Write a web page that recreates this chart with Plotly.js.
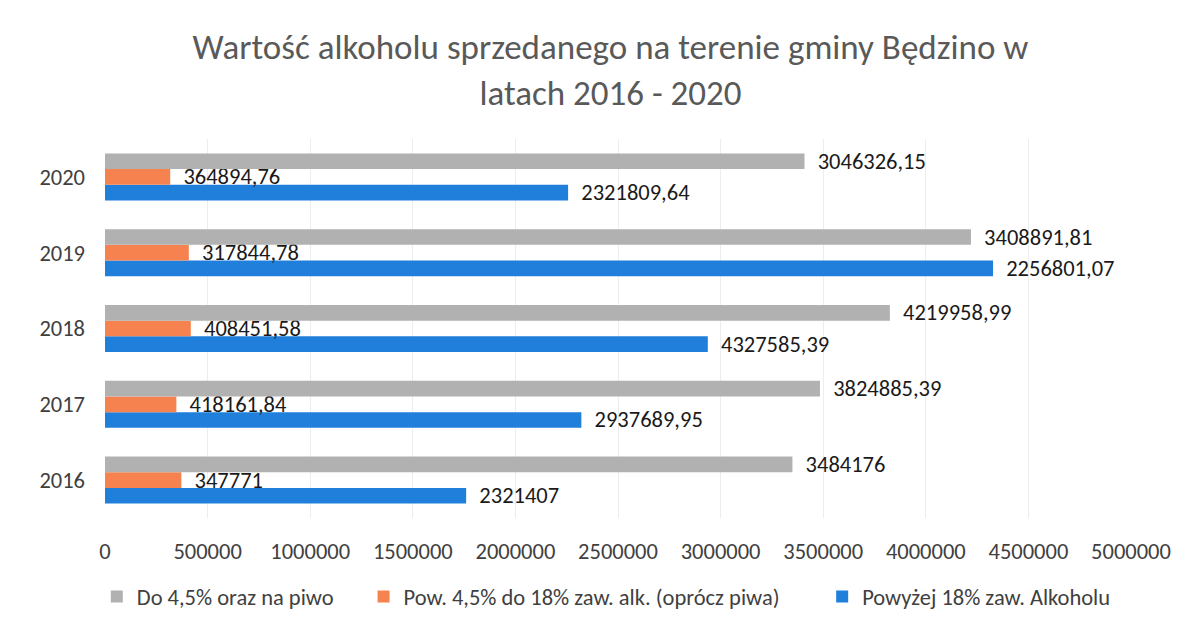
<!DOCTYPE html>
<html>
<head>
<meta charset="utf-8">
<script src="https://cdn.plot.ly/plotly-3.0.1.min.js"></script>
<style>html,body{margin:0;padding:0;background:#fff;}#chart{width:1190px;height:623px;}</style>
</head>
<body>
<div id="chart"></div>
<script>
// Categories (bottom to top)
const years = ['2016', '2017', '2018', '2019', '2020'];

// Bar lengths
const grayValues   = [3350000, 3484176, 3824885.39, 4219958.99, 3408891.81];
const orangeValues = [372000, 347771, 418161.84, 408451.58, 317844.78];
const blueValues   = [1760000, 2321407, 2937689.95, 4327585.39, 2256801.07];

// Data labels as printed in the picture
const grayLabels   = ['3484176', '3824885,39', '4219958,99', '3408891,81', '3046326,15'];
const orangeLabels = ['347771', '418161,84', '408451,58', '317844,78', '364894,76'];
const blueLabels   = ['2321407', '2937689,95', '4327585,39', '2256801,07', '2321809,64'];

// Series names
const seriesNames = ['Do 4,5% oraz na piwo', 'Pow. 4,5% do 18% zaw. alk. (oprócz piwa)', 'Powyżej 18% zaw. Alkoholu'];

const FONT = 'Carlito, Lato, "Liberation Sans", sans-serif';

function series(name, vals, labels, color, legendId) {
  return {
    type: 'bar', orientation: 'h', name: name, legend: legendId,
    y: years, x: vals, text: labels,
    texttemplate: '\u00a0\u00a0%{text}', textposition: 'outside',
    constraintext: 'none', cliponaxis: false,
    textfont: {family: FONT, size: 22.5, color: '#1a1a1a'},
    marker: {color: color}, hoverinfo: 'x+y+name'
  };
}

const data = [
  series(seriesNames[2], blueValues, blueLabels, '#1f7fdb', 'legend3'),
  series(seriesNames[1], orangeValues, orangeLabels, '#f6834f', 'legend2'),
  series(seriesNames[0], grayValues, grayLabels, '#b1b1b1', 'legend')
];

function legendAt(x) {
  return {
    orientation: 'h', x: x, xanchor: 'left',
    yref: 'container', y: 0.042, yanchor: 'middle',
    font: {family: FONT, size: 22.5, color: '#404040'},
    itemwidth: 30, bgcolor: 'rgba(0,0,0,0)'
  };
}

const layout = {
  width: 1190, height: 623,
  paper_bgcolor: '#ffffff', plot_bgcolor: '#ffffff',
  margin: {l: 105, r: 59, t: 139, b: 105, autoexpand: false},
  barmode: 'group', bargap: 0.38, bargroupgap: 0,
  font: {family: FONT, color: '#404040'},
  title: {
    text: 'Wartość alkoholu sprzedanego na terenie gminy Będzino w<br>latach 2016 - 2020',
    font: {family: FONT, size: 35, color: '#595959', weight: 300},
    x: 0.513, xanchor: 'center', y: 0.905, yanchor: 'middle'
  },
  xaxis: {
    range: [0, 5000000], dtick: 500000, tick0: 0, tickformat: 'd',
    showgrid: true, gridcolor: '#ededed', gridwidth: 1,
    zeroline: false, showline: false, ticks: '',
    tickfont: {family: FONT, size: 22.5, color: '#404040'},
    ticklabelstandoff: 17
  },
  yaxis: {
    type: 'category', showgrid: false, zeroline: false, showline: false, ticks: '',
    tickfont: {family: FONT, size: 22.5, color: '#404040'},
    ticklabelstandoff: 19
  },
  legend: legendAt(-0.008),
  legend2: legendAt(0.252),
  legend3: legendAt(0.699),
  showlegend: true
};

Plotly.newPlot('chart', data, layout, {displayModeBar: false, staticPlot: true});
</script>
</body>
</html>
